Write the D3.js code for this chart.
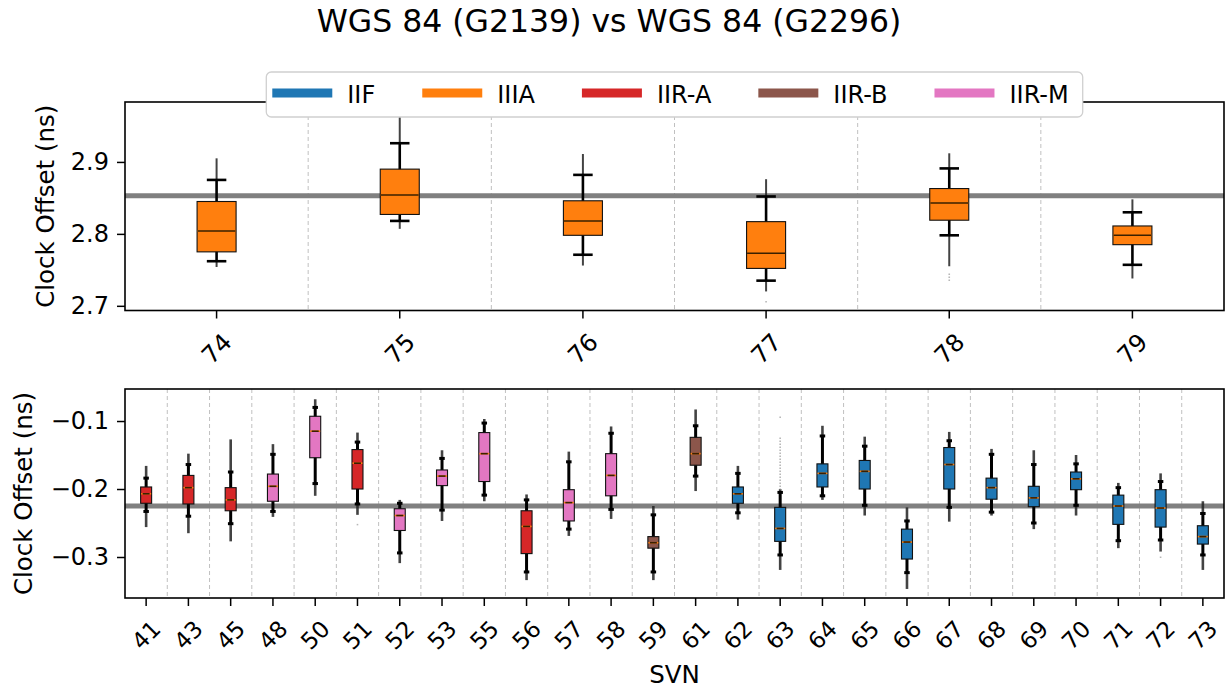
<!DOCTYPE html>
<html>
<head>
<meta charset="utf-8">
<script src="https://cdn.jsdelivr.net/npm/d3@7"></script>
<style>
  body { margin: 0; background: #fff; }
  text { font-family: "DejaVu Sans", sans-serif; fill: #000; }
</style>
</head>
<body>
<svg id="chart" width="1231" height="689"></svg>
<script>
// block types and their colours
var blocks = ["IIF", "IIIA", "IIR-A", "IIR-B", "IIR-M"];
var blockColors = ["#1f77b4", "#ff7f0e", "#d62728", "#8c564b", "#e377c2"];

// upper panel: GPS III satellites
var topSvn = ["74", "75", "76", "77", "78", "79"];
var topBlock = ["IIIA", "IIIA", "IIIA", "IIIA", "IIIA", "IIIA"];
var topQ1 = [2.775, 2.827, 2.798, 2.752, 2.819, 2.785];
var topMed = [2.804, 2.854, 2.818, 2.773, 2.843, 2.798];
var topQ3 = [2.845, 2.890, 2.846, 2.817, 2.863, 2.811];
var topWhiskLo = [2.762, 2.818, 2.771, 2.735, 2.798, 2.757];
var topWhiskHi = [2.875, 2.926, 2.882, 2.852, 2.891, 2.830];
var topOutLo = [2.754, 2.807, 2.756, 2.720, 2.755, 2.738];
var topOutHi = [2.905, 2.975, 2.911, 2.876, 2.912, 2.848];
var topStraySvn = ["77", "78"];
var topStrayLo = [2.706, 2.736];
var topStrayHi = [2.706, 2.745];
var topMean = 2.853;
var topTicks = [2.7, 2.8, 2.9];

// lower panel: older blocks
var botSvn = ["41", "43", "45", "48", "50", "51", "52", "53", "55", "56", "57", "58", "59",
              "61", "62", "63", "64", "65", "66", "67", "68", "69", "70", "71", "72", "73"];
var botBlock = ["IIR-A", "IIR-A", "IIR-A", "IIR-M", "IIR-M", "IIR-A", "IIR-M", "IIR-M", "IIR-M",
                "IIR-A", "IIR-M", "IIR-M", "IIR-B", "IIR-B", "IIF", "IIF", "IIF", "IIF", "IIF",
                "IIF", "IIF", "IIF", "IIF", "IIF", "IIF", "IIF"];
var botQ1 = [-0.221, -0.222, -0.232, -0.218, -0.154, -0.200, -0.261, -0.195, -0.189, -0.295, -0.247, -0.210, -0.287,
             -0.165, -0.221, -0.277, -0.197, -0.200, -0.303, -0.200, -0.215, -0.226, -0.201, -0.252, -0.256, -0.281];
var botMed = [-0.207, -0.198, -0.216, -0.196, -0.115, -0.162, -0.239, -0.181, -0.148, -0.255, -0.220, -0.180, -0.279,
              -0.148, -0.207, -0.258, -0.177, -0.174, -0.278, -0.164, -0.198, -0.213, -0.185, -0.225, -0.228, -0.270];
var botQ3 = [-0.197, -0.180, -0.198, -0.178, -0.093, -0.142, -0.229, -0.172, -0.117, -0.232, -0.201, -0.148, -0.270,
             -0.124, -0.197, -0.227, -0.163, -0.158, -0.259, -0.139, -0.184, -0.196, -0.175, -0.209, -0.201, -0.254];
var botWhiskLo = [-0.233, -0.240, -0.251, -0.233, -0.192, -0.222, -0.294, -0.231, -0.209, -0.322, -0.259, -0.230, -0.322,
                  -0.181, -0.235, -0.297, -0.210, -0.224, -0.323, -0.227, -0.234, -0.250, -0.224, -0.276, -0.275, -0.297];
var botWhiskHi = [-0.184, -0.164, -0.175, -0.149, -0.080, -0.131, -0.221, -0.155, -0.103, -0.216, -0.160, -0.118, -0.238,
                  -0.107, -0.177, -0.205, -0.122, -0.137, -0.247, -0.129, -0.149, -0.164, -0.163, -0.198, -0.189, -0.236];
var botOutLo = [-0.256, -0.265, -0.277, -0.241, -0.210, -0.238, -0.309, -0.247, -0.218, -0.334, -0.269, -0.244, -0.334,
                -0.203, -0.245, -0.319, -0.216, -0.239, -0.347, -0.248, -0.239, -0.259, -0.239, -0.287, -0.292, -0.319];
var botOutHi = [-0.166, -0.148, -0.127, -0.134, -0.068, -0.117, -0.216, -0.143, -0.097, -0.208, -0.145, -0.108, -0.225,
                -0.083, -0.166, -0.200, -0.107, -0.123, -0.227, -0.116, -0.141, -0.143, -0.150, -0.191, -0.177, -0.218];
var botStraySvn = ["51", "63", "63", "72"];
var botStrayLo = [-0.252, -0.200, -0.094, -0.300];
var botStrayHi = [-0.252, -0.125, -0.094, -0.300];
var botMean = -0.225;
var botTicks = [-0.3, -0.2, -0.1];

var svg = d3.select("#chart");
var left = 125, right = 1224;

function colorOf(b) { return blockColors[blocks.indexOf(b)]; }

function panel(opt) {
    var g = svg.append("g");
    var x = d3.scaleBand().domain(opt.svn).range([left, right]).padding(0);
    var y = d3.scaleLinear().domain(opt.domain).range([opt.bottom, opt.top]);
    var bw = x.bandwidth() * opt.boxFrac;
    var cw = bw * 0.5;

    var rows = opt.svn.map(function(s, i) {
        return {svn: s, block: opt.block[i], q1: opt.q1[i], med: opt.med[i], q3: opt.q3[i],
                wlo: opt.wlo[i], whi: opt.whi[i], olo: opt.olo[i], ohi: opt.ohi[i]};
    });

    // dashed separators between satellites
    g.selectAll("line.sep")
        .data(opt.svn.slice(1))
        .enter().append("line")
        .attr("class", "sep")
        .attr("x1", function(d) { return x(d); })
        .attr("x2", function(d) { return x(d); })
        .attr("y1", opt.top).attr("y2", opt.bottom)
        .attr("stroke", "#c0c0c0").attr("stroke-width", 1)
        .attr("stroke-dasharray", "4,3");

    // mean level
    g.append("line")
        .attr("x1", left).attr("x2", right)
        .attr("y1", y(opt.mean)).attr("y2", y(opt.mean))
        .attr("stroke", "#808080").attr("stroke-width", 5);

    var cx = function(d) { return x(d.svn) + x.bandwidth() / 2; };

    // flier runs
    g.selectAll("line.flo").data(rows).enter().append("line")
        .attr("x1", cx).attr("x2", cx)
        .attr("y1", function(d) { return y(d.wlo); })
        .attr("y2", function(d) { return y(d.olo); })
        .attr("stroke", "#222").attr("stroke-width", opt.flierW).attr("stroke-opacity", 0.85);
    g.selectAll("line.fhi").data(rows).enter().append("line")
        .attr("x1", cx).attr("x2", cx)
        .attr("y1", function(d) { return y(d.whi); })
        .attr("y2", function(d) { return y(d.ohi); })
        .attr("stroke", "#222").attr("stroke-width", opt.flierW).attr("stroke-opacity", 0.85);

    // sparse outliers
    opt.straySvn.forEach(function(s, i) {
        var sx = x(s) + x.bandwidth() / 2;
        g.append("line")
            .attr("x1", sx).attr("x2", sx)
            .attr("y1", y(opt.strayLo[i]) + 1).attr("y2", y(opt.strayHi[i]) - 1)
            .attr("stroke", "#999").attr("stroke-width", 1.6)
            .attr("stroke-dasharray", "1.5,1.5").attr("stroke-opacity", 0.7);
    });

    // whiskers
    g.selectAll("line.wh").data(rows).enter().append("line")
        .attr("x1", cx).attr("x2", cx)
        .attr("y1", function(d) { return y(d.wlo); })
        .attr("y2", function(d) { return y(d.whi); })
        .attr("stroke", "#000").attr("stroke-width", opt.whiskW);

    // caps
    ["wlo", "whi"].forEach(function(k) {
        g.selectAll("line.cap-" + k).data(rows).enter().append("line")
            .attr("x1", function(d) { return cx(d) - cw / 2; })
            .attr("x2", function(d) { return cx(d) + cw / 2; })
            .attr("y1", function(d) { return y(d[k]); })
            .attr("y2", function(d) { return y(d[k]); })
            .attr("stroke", "#000").attr("stroke-width", opt.whiskW);
    });

    // boxes
    g.selectAll("rect.box").data(rows).enter().append("rect")
        .attr("x", function(d) { return cx(d) - bw / 2; })
        .attr("y", function(d) { return y(d.q3); })
        .attr("width", bw)
        .attr("height", function(d) { return y(d.q1) - y(d.q3); })
        .attr("fill", function(d) { return colorOf(d.block); })
        .attr("stroke", "#111").attr("stroke-width", 1.1);

    // medians: orange line with a dark one over it
    g.selectAll("line.med").data(rows).enter().append("line")
        .attr("x1", function(d) { return cx(d) - bw / 2 + 0.5; })
        .attr("x2", function(d) { return cx(d) + bw / 2 - 0.5; })
        .attr("y1", function(d) { return y(d.med); })
        .attr("y2", function(d) { return y(d.med); })
        .attr("stroke", "#ff7f0e").attr("stroke-width", 1.6);
    g.selectAll("line.med2").data(rows).enter().append("line")
        .attr("x1", function(d) { return cx(d) - bw / 2 + opt.medInset; })
        .attr("x2", function(d) { return cx(d) + bw / 2 - opt.medInset; })
        .attr("y1", function(d) { return y(d.med); })
        .attr("y2", function(d) { return y(d.med); })
        .attr("stroke", "#3a2000").attr("stroke-width", 1.6);

    // axes
    var ya = g.append("g")
        .attr("transform", "translate(" + left + ",0)")
        .call(d3.axisLeft(y).tickValues(opt.ticks).tickFormat(d3.format(".1f"))
            .tickSize(8).tickPadding(8));
    ya.select(".domain").remove();
    ya.selectAll("line").attr("stroke", "#000").attr("stroke-width", 1.5);
    ya.selectAll("text").style("font-size", "24px");

    var xa = g.append("g")
        .attr("transform", "translate(0," + opt.bottom + ")")
        .call(d3.axisBottom(x).tickSize(8));
    xa.select(".domain").remove();
    xa.selectAll("line").attr("stroke", "#000").attr("stroke-width", 1.5);
    xa.selectAll("text")
        .attr("y", 0).attr("dy", "0.35em")
        .attr("transform", "translate(0," + opt.labelOff + ") rotate(-45)")
        .style("text-anchor", "middle")
        .style("font-size", opt.xFont + "px");

    g.append("text")
        .attr("transform", "translate(" + opt.ylabX + "," + (opt.top + opt.bottom) / 2 + ") rotate(-90)")
        .attr("text-anchor", "middle")
        .style("font-size", "24.5px")
        .text("Clock Offset (ns)");

    // frame
    g.append("rect")
        .attr("x", left).attr("y", opt.top)
        .attr("width", right - left).attr("height", opt.bottom - opt.top)
        .attr("fill", "none").attr("stroke", "#000").attr("stroke-width", 1.6);
}

panel({svn: topSvn, block: topBlock, q1: topQ1, med: topMed, q3: topQ3,
       wlo: topWhiskLo, whi: topWhiskHi, olo: topOutLo, ohi: topOutHi,
       straySvn: topStraySvn, strayLo: topStrayLo, strayHi: topStrayHi,
       mean: topMean, ticks: topTicks, domain: [2.6935, 2.9833],
       top: 102, bottom: 310.5, boxFrac: 0.213, whiskW: 2.6, flierW: 2, medInset: 0.5,
       labelOff: 38, xFont: 24, ylabX: 54});

panel({svn: botSvn, block: botBlock, q1: botQ1, med: botMed, q3: botQ3,
       wlo: botWhiskLo, whi: botWhiskHi, olo: botOutLo, ohi: botOutHi,
       straySvn: botStraySvn, strayLo: botStrayLo, strayHi: botStrayHi,
       mean: botMean, ticks: botTicks, domain: [-0.3603, -0.0529],
       top: 389, bottom: 598, boxFrac: 0.26, whiskW: 3, flierW: 2.6, medInset: 2,
       labelOff: 37, xFont: 23, ylabX: 32});

svg.append("text")
    .attr("x", (left + right) / 2).attr("y", 683)
    .attr("text-anchor", "middle")
    .style("font-size", "24.5px")
    .text("SVN");

svg.append("text")
    .attr("x", 609).attr("y", 32)
    .attr("text-anchor", "middle")
    .style("font-size", "31.5px")
    .text("WGS 84 (G2139) vs WGS 84 (G2296)");

// legend across the top of the upper panel
var leg = svg.append("g");
var legBox = leg.append("rect")
    .attr("y", 72).attr("height", 45).attr("rx", 5)
    .attr("fill", "#fff")
    .attr("stroke", "#d0d0d0").attr("stroke-width", 1.3);
var lx = 0;
blocks.forEach(function(b, i) {
    leg.append("line")
        .attr("x1", lx).attr("x2", lx + 60)
        .attr("y1", 93).attr("y2", 93)
        .attr("stroke", blockColors[i]).attr("stroke-width", 9);
    var t = leg.append("text")
        .attr("x", lx + 75).attr("y", 103)
        .style("font-size", "24px")
        .text(b);
    lx = lx + 75 + t.node().getComputedTextLength() + 47;
});
var legW = lx - 47 + 6 + 14;
var legX = (left + right) / 2 - legW / 2;
legBox.attr("x", -6).attr("width", legW);
leg.attr("transform", "translate(" + (legX + 6) + ",0)");
</script>
</body>
</html>
